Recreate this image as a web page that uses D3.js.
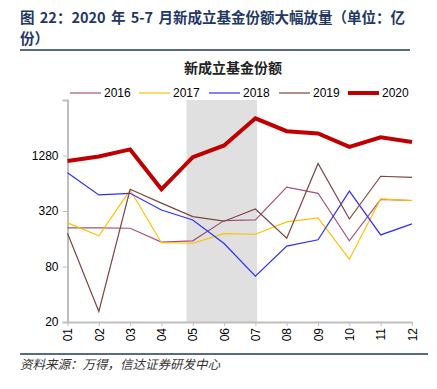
<!DOCTYPE html>
<html>
<head>
<meta charset="utf-8">
<script src="https://cdn.jsdelivr.net/npm/d3@7"></script>
<style>
  body { margin: 0; background: #fff; }
  svg { display: block; font-family: "Liberation Sans", Arial, sans-serif; }
</style>
</head>
<body>
<script>
var months = ["01", "02", "03", "04", "05", "06", "07", "08", "09", "10", "11", "12"];
var yTicks = [20, 80, 320, 1280];
var seriesNames = ["2016", "2017", "2018", "2019", "2020"];

var s2016 = [210, 210, 208, 147, 152, 252, 256, 580, 498, 152, 428, 416];
var s2017 = [238, 172, 540, 145, 143, 182, 179, 244, 270, 96, 434, 414];
var s2018 = [830, 478, 498, 328, 256, 142, 63, 133, 156, 526, 176, 232];
var s2019 = [184, 26, 550, 390, 278, 248, 336, 162, 1050, 262, 762, 742];
var s2020 = [1114, 1250, 1490, 550, 1230, 1646, 3240, 2350, 2220, 1590, 2020, 1790];

var colors = ["#a5527a", "#ffc000", "#2f2fff", "#7f4545", "#c00000"];
var widths = [1.2, 1.2, 1.2, 1.2, 4];

var w = 437,
    h = 389;

var svg = d3.select("body")
  .append("svg")
  .attr("width", w)
  .attr("height", h);

// header, two lines like the report
var titleLines = ["图 22：2020 年 5-7 月新成立基金份额大幅放量（单位：亿", "份）"];
svg.selectAll("text.title")
  .data(titleLines)
  .enter()
  .append("text")
  .attr("class", "title")
  .attr("x", 20)
  .attr("y", function (d, i) { return 23 + i * 21; })
  .attr("fill", "#1f3864")
  .attr("font-weight", "bold")
  .attr("font-size", 14.5)
  .attr("word-spacing", 2)
  .style("font-family", "'Noto Sans CJK SC', sans-serif")
  .text(function (d) { return d; });

svg.append("line")
  .attr("x1", 20).attr("x2", 410)
  .attr("y1", 50).attr("y2", 50)
  .attr("stroke", "#1f3864")
  .attr("stroke-width", 1.5);

svg.append("text")
  .attr("x", 233)
  .attr("y", 73)
  .attr("text-anchor", "middle")
  .attr("font-size", 14)
  .attr("font-weight", "bold")
  .attr("fill", "#222")
  .style("font-family", "'Noto Sans CJK SC', sans-serif")
  .text("新成立基金份额");

// scales
var xScale = d3.scaleLinear()
  .domain([0, months.length - 1])
  .range([67.5, 412]);

var yScale = d3.scaleLog()
  .base(4)
  .domain([20, 5120])
  .range([322, 100]);

// shaded period 05-07
svg.append("rect")
  .attr("x", xScale(3.8))
  .attr("y", yScale(5120))
  .attr("width", xScale(6.05) - xScale(3.8))
  .attr("height", yScale(20) - yScale(5120))
  .attr("fill", "#e0e0e0");

// axes
var yAxis = d3.axisLeft(yScale)
  .tickValues(yTicks)
  .tickFormat(d3.format("d"))
  .tickSize(5)
  .tickPadding(4);

var gy = svg.append("g")
  .attr("transform", "translate(" + xScale(0) + ",0)")
  .call(yAxis);
gy.select(".domain").attr("stroke", "#bfbfbf").attr("stroke-width", 2);
gy.selectAll(".tick line").attr("stroke", "#bfbfbf");
gy.selectAll(".tick text").attr("font-size", 12).attr("fill", "#000")
  .style("font-family", "'Liberation Sans', Arial, sans-serif");

var xAxis = d3.axisBottom(xScale)
  .tickValues(d3.range(months.length))
  .tickFormat(function (d) { return months[d]; })
  .tickSize(4)
  .tickSizeOuter(0);

var gx = svg.append("g")
  .attr("transform", "translate(0," + yScale(20) + ")")
  .call(xAxis);
gx.select(".domain").attr("stroke", "#bfbfbf").attr("stroke-width", 2);
gx.selectAll(".tick line").attr("stroke", "#bfbfbf");
gx.selectAll(".tick text")
  .attr("font-size", 12)
  .attr("fill", "#000")
  .style("font-family", "'Liberation Sans', Arial, sans-serif")
  .attr("text-anchor", "end")
  .attr("transform", "rotate(-90)")
  .attr("x", -6)
  .attr("y", 0)
  .attr("dy", "0.35em");

// lines
var allSeries = [s2016, s2017, s2018, s2019, s2020];
var line = d3.line()
  .x(function (d, i) { return xScale(i); })
  .y(function (d) { return yScale(d); });

svg.selectAll("path.series")
  .data(allSeries)
  .enter()
  .append("path")
  .attr("class", "series")
  .attr("d", line)
  .attr("fill", "none")
  .attr("stroke", function (d, i) { return colors[i]; })
  .attr("stroke-width", function (d, i) { return widths[i]; })
  .attr("stroke-linejoin", "miter");

// legend
var legendX = [70, 139, 209, 279, 348];
var legend = svg.selectAll("g.legend")
  .data(seriesNames)
  .enter()
  .append("g")
  .attr("class", "legend")
  .attr("transform", function (d, i) { return "translate(" + legendX[i] + ",93)"; });
legend.append("line")
  .attr("x1", 0).attr("x2", 31)
  .attr("stroke", function (d, i) { return colors[i]; })
  .attr("stroke-width", function (d, i) { return widths[i]; });
legend.append("text")
  .attr("x", 34)
  .attr("dy", "0.35em")
  .attr("font-size", 12)
  .text(function (d) { return d; });

// footer
svg.append("line")
  .attr("x1", 20).attr("x2", 428)
  .attr("y1", 354).attr("y2", 354)
  .attr("stroke", "#1f3864")
  .attr("stroke-width", 1.5);

svg.append("text")
  .attr("x", 20)
  .attr("y", 369)
  .attr("font-size", 12.5)
  .attr("font-style", "italic")
  .attr("fill", "#333")
  .style("font-family", "'Noto Sans CJK SC', sans-serif")
  .text("资料来源：万得，信达证券研发中心");
</script>
</body>
</html>
